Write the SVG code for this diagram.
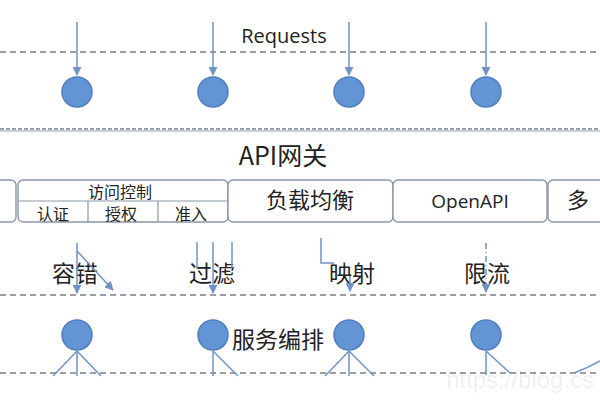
<svg xmlns="http://www.w3.org/2000/svg" width="600" height="400" viewBox="0 0 600 400">
<style>
.dash{stroke:#7a7f88;stroke-width:1.3;stroke-dasharray:6 4;fill:none}
.ln{stroke:#6f93c4;stroke-width:1.5;fill:none}
.node{fill:#6395d6;stroke:#4f7fbd;stroke-width:1.5}
.box{fill:#fff;stroke:#8a97a8;stroke-width:1.4}
.cn{font-family:"Noto Sans CJK SC","Noto Sans",sans-serif;fill:#222;text-anchor:middle}
.lat{font-family:"Open Sans","Noto Sans",sans-serif;fill:#222;text-anchor:middle}
</style>
<defs>
<marker id="ah" viewBox="0 0 10 10" refX="9" refY="5" markerWidth="6" markerHeight="6" orient="auto" markerUnits="strokeWidth">
<path d="M0,0 L10,5 L0,10 z" fill="#6f93c4"/>
</marker>
</defs>
<rect width="600" height="400" fill="#fff"/>

<g id="layers">
<line class="dash" x1="0" y1="52" x2="600" y2="52"/>
<line class="dash" x1="0" y1="129" x2="600" y2="129" style="stroke-dasharray:4 2"/>
<line class="dash" x1="0" y1="295" x2="600" y2="295"/>
<line class="dash" x1="0" y1="373" x2="600" y2="373"/>
</g>

<g id="requests"><text class="lat" x="284" y="43" font-size="20">Requests</text></g>

<g id="gateway">
<line x1="0" y1="131" x2="600" y2="131" stroke="#9aa6b6" stroke-width="1"/>
<text class="cn" x="283" y="165" font-size="25">API网关</text>
</g>

<g id="box-left"><rect class="box" x="-20" y="180" width="36" height="42" rx="5"/></g>
<g id="box-access">
<rect class="box" x="18" y="180" width="210" height="42" rx="5"/>
<line x1="18" y1="201" x2="228" y2="201" stroke="#8a97a8" stroke-width="1.2"/>
<line x1="88" y1="201" x2="88" y2="222" stroke="#8a97a8" stroke-width="1.2"/>
<line x1="158" y1="201" x2="158" y2="222" stroke="#8a97a8" stroke-width="1.2"/>
<text class="cn" x="120" y="198" font-size="16">访问控制</text>
<text class="cn" x="53" y="220" font-size="16">认证</text>
<text class="cn" x="121" y="220" font-size="16">授权</text>
<text class="cn" x="191" y="220" font-size="16">准入</text>
</g>
<g id="box-lb"><rect class="box" x="228" y="180" width="165" height="42" rx="5"/><text class="cn" x="310" y="208" font-size="22">负载均衡</text></g>
<g id="box-openapi"><rect class="box" x="393" y="180" width="154" height="42" rx="5"/><text class="lat" x="470" y="208" font-size="19">OpenAPI</text></g>
<g id="box-more"><rect class="box" x="548" y="180" width="80" height="42" rx="5"/><text class="cn" x="578" y="208" font-size="22" text-anchor="start">多</text></g>

<g id="labels">
<text class="cn" x="75" y="282" font-size="23">容错</text>
<text class="cn" x="212" y="282" font-size="23">过滤</text>
<text class="cn" x="352" y="282" font-size="23">映射</text>
<text class="cn" x="487" y="282" font-size="23">限流</text>
<text class="cn" x="278" y="348" font-size="23">服务编排</text>
</g>

<g id="connectors">
<line class="ln" x1="77" y1="22" x2="77" y2="75" marker-end="url(#ah)"/>
<line class="ln" x1="213" y1="22" x2="213" y2="75" marker-end="url(#ah)"/>
<line class="ln" x1="349" y1="22" x2="349" y2="75" marker-end="url(#ah)"/>
<line class="ln" x1="486" y1="22" x2="486" y2="75" marker-end="url(#ah)"/>

<line class="ln" x1="77" y1="243" x2="77" y2="293" marker-end="url(#ah)"/>
<line class="ln" x1="77" y1="251" x2="113" y2="290" marker-end="url(#ah)"/>
<line class="ln" x1="197" y1="242" x2="197" y2="268"/>
<line class="ln" x1="213" y1="242" x2="213" y2="293" marker-end="url(#ah)"/>
<line class="ln" x1="232" y1="242" x2="232" y2="268"/>
<polyline class="ln" points="321,238 321,263 334,263"/>
<line class="ln" x1="350" y1="276" x2="350" y2="291" marker-end="url(#ah)"/>
<line class="ln" x1="486" y1="243" x2="486" y2="292" stroke-dasharray="6 3 1 3" marker-end="url(#ah)"/>

<line class="ln" x1="77" y1="351" x2="53" y2="376"/>
<line class="ln" x1="77" y1="351" x2="77" y2="376"/>
<line class="ln" x1="77" y1="351" x2="101" y2="376"/>
<line class="ln" x1="213" y1="351" x2="213" y2="376"/>
<line class="ln" x1="213" y1="351" x2="238" y2="376"/>
<line class="ln" x1="349" y1="351" x2="325" y2="376"/>
<line class="ln" x1="349" y1="351" x2="349" y2="376"/>
<line class="ln" x1="349" y1="351" x2="374" y2="376"/>
<line class="ln" x1="486" y1="351" x2="486" y2="375"/>
<line class="ln" x1="486" y1="351" x2="510" y2="373"/>
<path class="ln" d="M600,361 Q588,368 574,373"/>
</g>

<g id="nodes">
<circle id="n1" class="node" cx="77" cy="92" r="15"/>
<circle id="n2" class="node" cx="213" cy="92" r="15"/>
<circle id="n3" class="node" cx="349" cy="92" r="15"/>
<circle id="n4" class="node" cx="486" cy="92" r="15"/>
<circle id="n5" class="node" cx="77" cy="335" r="15"/>
<circle id="n6" class="node" cx="213" cy="335" r="15"/>
<circle id="n7" class="node" cx="349" cy="335" r="15"/>
<circle id="n8" class="node" cx="486" cy="335" r="15"/>
</g>

<g id="watermark"><text x="446" y="388" font-family="Liberation Sans, sans-serif" font-size="24" fill="#000" fill-opacity="0.08">https://blog.cs</text></g>
</svg>
